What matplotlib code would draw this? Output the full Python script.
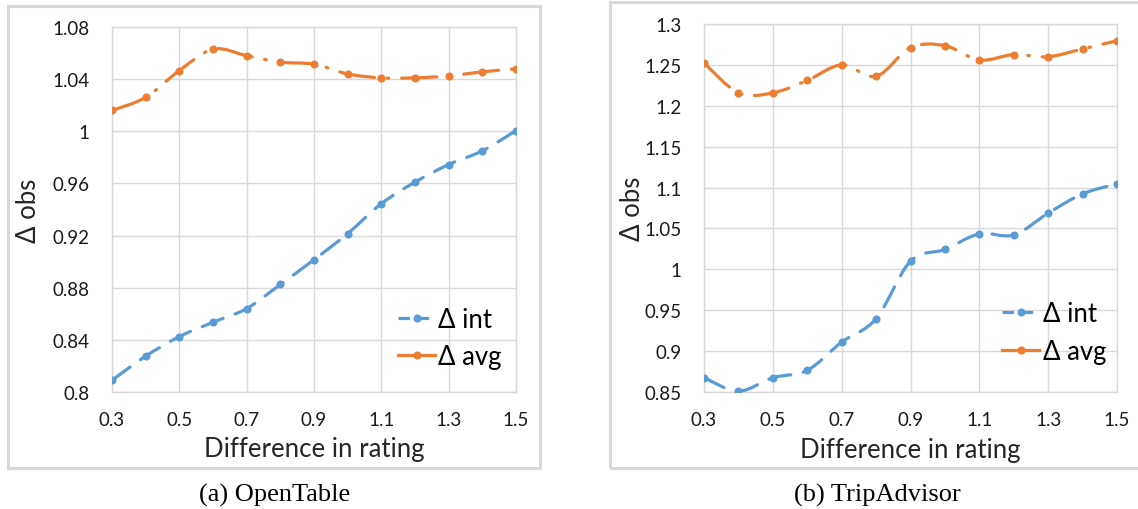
import numpy as np
import matplotlib
matplotlib.use('Agg')
import matplotlib.pyplot as plt
from matplotlib.path import Path
from matplotlib.patches import PathPatch, Rectangle
from matplotlib.lines import Line2D

plt.rcParams['font.family'] = ['Lato', 'DejaVu Sans']

# Data
diff_rating = [0.3, 0.4, 0.5, 0.6, 0.7, 0.8, 0.9, 1.0, 1.1, 1.2, 1.3, 1.4, 1.5]

ot_int = [0.809, 0.8275, 0.8425, 0.8535, 0.864, 0.8825, 0.9015, 0.9215, 0.9445, 0.961, 0.9745, 0.985, 1.0005]
ot_avg = [1.016, 1.026, 1.0466, 1.063, 1.058, 1.053, 1.0515, 1.044, 1.041, 1.041, 1.0425, 1.0456, 1.048]

ta_int = [0.8675, 0.851, 0.8675, 0.8765, 0.911, 0.9396, 1.010, 1.0243, 1.0434, 1.042, 1.0687, 1.0923, 1.1045]
ta_avg = [1.2524, 1.2158, 1.2158, 1.231, 1.250, 1.236, 1.271, 1.2735, 1.256, 1.2625, 1.260, 1.2695, 1.2796]

x_ticks = [0.3, 0.5, 0.7, 0.9, 1.1, 1.3, 1.5]
ot_yticks = [0.8, 0.84, 0.88, 0.92, 0.96, 1.0, 1.04, 1.08]
ot_ylabels = ['0.8', '0.84', '0.88', '0.92', '0.96', '1', '1.04', '1.08']
ta_yticks = [0.85, 0.9, 0.95, 1.0, 1.05, 1.1, 1.15, 1.2, 1.25, 1.3]
ta_ylabels = ['0.85', '0.9', '0.95', '1', '1.05', '1.1', '1.15', '1.2', '1.25', '1.3']

BLUE = '#5B9BD5'
ORANGE = '#ED7D31'
GRID = '#d9d9d9'
LW = 2.3
INT_STYLE = (0, (7, 4))
AVG_STYLE = (0, (11, 4, 0.5, 4))


def smooth_path(xs, ys):
    # excel-like smoothed line through the points (catmull-rom -> bezier)
    pts = np.column_stack([xs, ys])
    n = len(pts)
    verts = [pts[0]]
    codes = [Path.MOVETO]
    for i in range(n - 1):
        p0 = pts[max(i - 1, 0)]
        p1 = pts[i]
        p2 = pts[i + 1]
        p3 = pts[min(i + 2, n - 1)]
        verts += [p1 + (p2 - p0) / 6, p2 - (p3 - p1) / 6, p2]
        codes += [Path.CURVE4] * 3
    return Path(verts, codes)


def draw_series(ax, ys, color, style):
    patch = PathPatch(smooth_path(diff_rating, ys), facecolor='none', edgecolor=color,
                      lw=LW, linestyle=style, capstyle='round', zorder=3)
    ax.add_patch(patch)
    ax.plot(diff_rating, ys, ls='none', marker='o', ms=4.8, color=color, zorder=4)


def setup_axes(ax, ylim, yticks, ylabels, ylab_x, leg_anchor):
    ax.set_xlim(0.3, 1.5)
    ax.set_ylim(*ylim)
    ax.set_xticks(x_ticks)
    ax.set_xticklabels([str(v) for v in x_ticks])
    ax.set_yticks(yticks)
    ax.set_yticklabels(ylabels)
    ax.grid(True, color=GRID, lw=1)
    ax.set_axisbelow(True)
    for s in ax.spines.values():
        s.set_color(GRID)
        s.set_linewidth(1)
    ax.tick_params(length=0, labelsize=13.5, labelcolor='#1a1a1a')
    ax.tick_params(axis='y', pad=16)
    ax.tick_params(axis='x', pad=14)
    ax.set_xlabel('Difference in rating', fontsize=18.5, color='#262626')
    ax.set_ylabel('Δ obs', fontsize=18.5, color='#262626')
    ax.xaxis.label.set_verticalalignment('center')
    ax.yaxis.label.set_verticalalignment('center')
    ax.xaxis.set_label_coords(0.5, -0.156)
    ax.yaxis.set_label_coords(ylab_x, 0.5)
    h1 = Line2D([], [], color=BLUE, lw=LW, ls=(0, (3.6, 2.4)), marker='o', ms=4.8)
    h2 = Line2D([], [], color=ORANGE, lw=LW, ls='-', marker='o', ms=4.8)
    ax.legend([h1, h2], ['Δ int', 'Δ avg'], loc='upper left', bbox_to_anchor=leg_anchor,
              frameon=False, borderpad=0, borderaxespad=0, handlelength=1.45,
              handletextpad=0.12, labelspacing=0.5, fontsize=18.5, numpoints=1)


fig = plt.figure(figsize=(11.38, 5.10), dpi=100)
W, H = 1138, 510

ax1 = fig.add_axes([112 / W, 117 / H, 404 / W, 365 / H])
draw_series(ax1, ot_int, BLUE, INT_STYLE)
draw_series(ax1, ot_avg, ORANGE, AVG_STYLE)
setup_axes(ax1, (0.8, 1.08), ot_yticks, ot_ylabels, (29 - 112) / 404, (0.708, 0.234))

ax2 = fig.add_axes([704 / W, 117 / H, 413 / W, 368 / H])
draw_series(ax2, ta_int, BLUE, INT_STYLE)
draw_series(ax2, ta_avg, ORANGE, AVG_STYLE)
setup_axes(ax2, (0.85, 1.3), ta_yticks, ta_ylabels, (633 - 704) / 413, (0.722, 0.246))

# grey frames around each panel
fig.patches.append(Rectangle((8 / W, 1 - 469 / H), 532 / W, 462 / H, transform=fig.transFigure,
                             fill=False, edgecolor=GRID, lw=2.2))
fig.patches.append(Rectangle((610 / W, 1 - 469 / H), 540 / W, 466 / H, transform=fig.transFigure,
                             fill=False, edgecolor=GRID, lw=2.2))

# captions
fig.text(275 / W, 1 - 495 / H, '(a) OpenTable', ha='center', va='center',
         family='Liberation Serif', fontsize=19)
fig.text(877 / W, 1 - 495 / H, '(b) TripAdvisor', ha='center', va='center',
         family='Liberation Serif', fontsize=19)

fig.savefig('out.png', dpi=100)
